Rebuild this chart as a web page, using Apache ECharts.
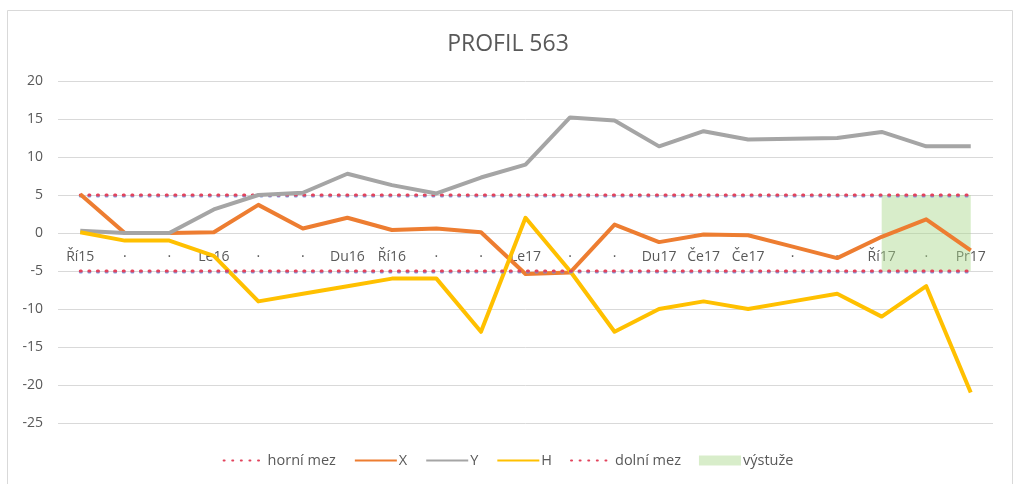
<!DOCTYPE html>
<html>
<head>
<meta charset="utf-8">
<script src="https://cdn.jsdelivr.net/npm/echarts@6/dist/echarts.min.js"></script>
<style>
  html, body { margin: 0; padding: 0; background: #fff; }
  #chart { width: 1016px; height: 484px; }
</style>
</head>
<body>
<div id="chart"></div>
<script>
// kategorie (datum mereni)
var kategorie = ['Ří15', '·', '·', 'Le16', '·', '·', 'Du16', 'Ří16', '·', '·', 'Le17',
                 '·', '·', 'Du17', 'Če17', 'Če17', '·', '·', 'Ří17', '·', 'Pr17'];

// posuny
var hodnotyX = [5.1, 0, 0, 0.1, 3.7, 0.6, 2.0, 0.4, 0.6, 0.1, -5.4,
                -5.2, 1.1, -1.2, -0.2, -0.3, -1.8, -3.3, -0.5, 1.8, -2.3];
var hodnotyY = [0.3, 0, 0, 3.1, 5.0, 5.3, 7.8, 6.3, 5.2, 7.3, 9.0,
                15.2, 14.8, 11.4, 13.4, 12.3, 12.4, 12.5, 13.3, 11.4, 11.4];
var hodnotyH = [0.1, -1, -1, -3, -9, -8, -7, -6, -6, -13, 2,
                -5, -13, -10, -9, -10, -9, -8, -11, -7, -21];

// meze
var horniMez = [5, 5, 5, 5, 5, 5, 5, 5, 5, 5, 5, 5, 5, 5, 5, 5, 5, 5, 5, 5, 5];
var dolniMez = [-5, -5, -5, -5, -5, -5, -5, -5, -5, -5, -5, -5, -5, -5, -5, -5, -5, -5, -5, -5, -5];

// vystuze - pas od dolni do horni meze
var vystuzeOd = [null, null, null, null, null, null, null, null, null, null, null,
                 null, null, null, null, null, null, null, -5, -5, -5];
var vystuzeVyska = [null, null, null, null, null, null, null, null, null, null, null,
                    null, null, null, null, null, null, null, 10, 10, 10];

var osaY = { min: -25, max: 20, interval: 5 };

var pismo = '"Open Sans", "Noto Sans", sans-serif';
var seda = '#595959';
var zelena = 'rgba(169,214,138,0.45)';

var tecky = {
    color: '#e2435c',
    width: 3,
    type: [1, 7.6],
    cap: 'round',
    shadowColor: 'rgba(110,150,225,0.9)',
    shadowOffsetY: 1,
    shadowBlur: 0
};

var gridTop = 81, gridBottom = 61;
// popisky osy x sedi na nule (osa y -25..20)
var vyskaGridu = 484 - gridTop - gridBottom;
var posunOsyX = -vyskaGridu * (0 - osaY.min) / (osaY.max - osaY.min);

var myChart = echarts.init(document.getElementById('chart'));
var option = {
    backgroundColor: '#fff',
    animation: false,
    textStyle: { fontFamily: pismo },
    title: {
        text: 'PROFIL 563',
        left: 'center',
        top: 28,
        textStyle: { fontFamily: pismo, fontSize: 23, fontWeight: 'normal', color: seda }
    },
    graphic: [{
        type: 'rect',
        shape: { x: 7.5, y: 10.5, width: 1005, height: 480 },
        style: { fill: 'none', stroke: '#d9d9d9', lineWidth: 1 },
        silent: true
    }],
    grid: { left: 58, right: 23, top: gridTop, bottom: gridBottom },
    legend: {
        bottom: 11,
        left: 'center',
        itemWidth: 42,
        itemHeight: 10,
        itemGap: 18,
        itemStyle: { opacity: 0 },
        textStyle: { fontFamily: pismo, fontSize: 14.5, color: seda, padding: [0, 0, 0, -3] },
        data: ['horní mez', 'X', 'Y', 'H', 'dolní mez',
               { name: 'výstuže', icon: 'rect', itemStyle: { opacity: 1, color: zelena } }]
    },
    xAxis: {
        type: 'category',
        data: kategorie,
        boundaryGap: true,
        offset: posunOsyX,
        axisLine: { show: false, onZero: false },
        axisTick: { show: false },
        axisLabel: { color: seda, fontSize: 14, fontFamily: pismo, margin: 17, interval: 0 }
    },
    yAxis: {
        type: 'value',
        min: osaY.min,
        max: osaY.max,
        interval: osaY.interval,
        axisLine: { show: false },
        axisTick: { show: false },
        axisLabel: { color: seda, fontSize: 14, fontFamily: pismo, margin: 15 },
        splitLine: { lineStyle: { color: '#d9d9d9', width: 1 } }
    },
    series: [
        {
            name: 'horní mez', type: 'line', data: horniMez, symbol: 'none',
            itemStyle: { color: '#e2435c' }, lineStyle: tecky
        },
        {
            name: 'X', type: 'line', data: hodnotyX, symbol: 'none',
            itemStyle: { color: '#ED7D31' }, lineStyle: { color: '#ED7D31', width: 4, join: 'round' }
        },
        {
            name: 'Y', type: 'line', data: hodnotyY, symbol: 'none',
            itemStyle: { color: '#A5A5A5' }, lineStyle: { color: '#A5A5A5', width: 4, join: 'round' }
        },
        {
            name: 'H', type: 'line', data: hodnotyH, symbol: 'none',
            itemStyle: { color: '#FFC000' }, lineStyle: { color: '#FFC000', width: 4, join: 'round' }
        },
        {
            name: 'dolní mez', type: 'line', data: dolniMez, symbol: 'none',
            itemStyle: { color: '#e2435c' }, lineStyle: tecky
        },
        {
            name: 'zaklad', type: 'line', data: vystuzeOd, symbol: 'none',
            stack: 'vystuze', stackStrategy: 'all',
            lineStyle: { width: 0, opacity: 0 }, silent: true
        },
        {
            name: 'výstuže', type: 'line', data: vystuzeVyska, symbol: 'none',
            stack: 'vystuze', stackStrategy: 'all',
            itemStyle: { color: zelena },
            lineStyle: { width: 0, opacity: 0 },
            areaStyle: { color: zelena, opacity: 1 }
        }
    ]
};
myChart.setOption(option);
</script>
</body>
</html>
